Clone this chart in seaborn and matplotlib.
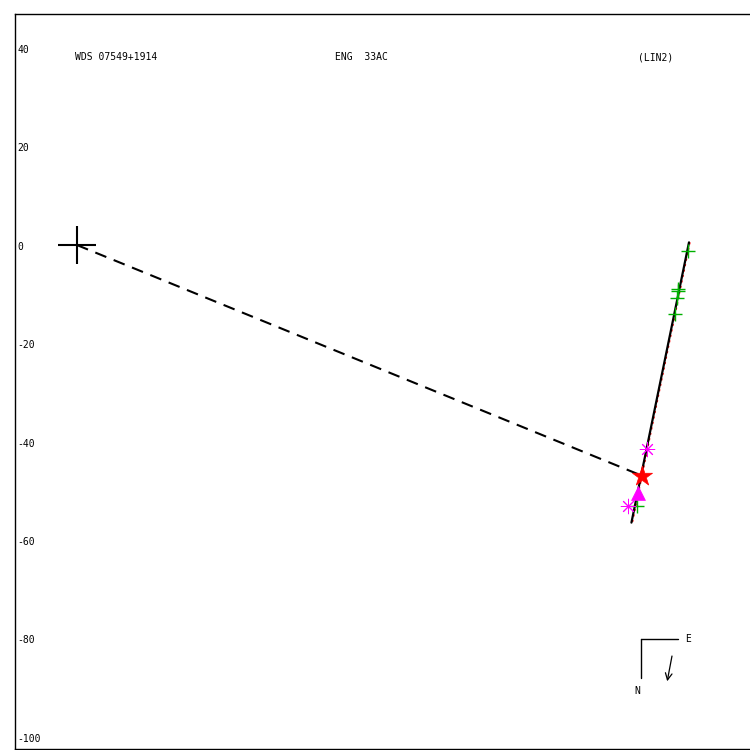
import matplotlib
matplotlib.use("Agg")
import matplotlib.pyplot as plt
import matplotlib.transforms as mtransforms
import seaborn as sns
import pandas as pd

# ---- data ----
ytick_values = [40, 20, 0, -20, -40, -60, -80, -100]
ytick_labels = ["40", "20", "0", "-20", "-40", "-60", "-80", "-100"]

header_left = "WDS 07549+1914"
header_mid = "ENG  33AC"
header_right = "(LIN2)"

primary_x = [0.0]
primary_y = [0.0]

# linear fit line (black) and red companion
fit_x = [124.4, 112.7]
fit_y = [0.55, -56.4]
red_x = [124.6, 112.9]
red_y = [0.55, -56.4]

# dashed line from primary to predicted position (red star)
link_x = [0.0, 114.9]
link_y = [0.0, -46.9]

green_x = [124.2, 122.2, 122.2, 122.0, 121.5, 113.9]
green_y = [-1.2, -8.95, -9.4, -10.85, -14.1, -53.1]

ast_x = [115.9, 111.9]
ast_y = [-41.5, -53.1]

tri_x = [114.1]
tri_y = [-50.3]

star_x = [114.9]
star_y = [-46.9]

# ---- plot ----
sns.set_style("white")
plt.rcParams['font.family'] = ['DejaVu Sans Mono', 'DejaVu Sans']
plt.rcParams['text.color'] = 'black'

fig = plt.figure(figsize=(7.5, 7.5), dpi=100)
ax = fig.add_axes([15 / 750, 1 - 749 / 750, 735 / 750, 735 / 750])

ax.set_xlim(-12.6, 136.8)
ax.set_ylim(-102.4, 46.95)

# dashed link
sns.lineplot(x=link_x, y=link_y, ax=ax, color="black", linewidth=1.5, sort=False,
             estimator=None)
ax.lines[-1].set_dashes((5.7, 3.8))

# red and black fit lines
sns.lineplot(x=red_x, y=red_y, ax=ax, color="red", linewidth=1.0, sort=False,
             estimator=None)
ax.lines[-1].set_dashes((1.5, 2.5))
sns.lineplot(x=fit_x, y=fit_y, ax=ax, color="black", linewidth=1.6, sort=False,
             estimator=None)

# markers
ax.plot(primary_x, primary_y, marker="+", markersize=27, markeredgewidth=1.5,
        color="black", linestyle="none")
sns.scatterplot(x=green_x, y=green_y, ax=ax, marker="+", s=95, color="#00b000",
                linewidth=1.0, zorder=5)
sns.scatterplot(x=ast_x, y=ast_y, ax=ax, marker=(8, 2, 0), s=110, color="magenta",
                edgecolor="magenta", linewidth=0.7, zorder=5)
sns.scatterplot(x=tri_x, y=tri_y, ax=ax, marker="^", s=100, color="magenta",
                edgecolor="magenta", linewidth=0.5, zorder=6)
sns.scatterplot(x=star_x, y=star_y, ax=ax, marker="*", s=230, color="red",
                edgecolor="red", linewidth=0.5, zorder=7)

# y tick labels drawn inside the frame
ax.set_xticks([])
ax.set_yticks([])
blend = mtransforms.blended_transform_factory(ax.transAxes, ax.transData)
for v, lab in zip(ytick_values, ytick_labels):
    ax.text(0.003, v - 0.35, lab, transform=blend, ha="left", va="center", fontsize=7)

# header texts
ax.text((75 - 15) / 735, (749 - 57) / 735, header_left, transform=ax.transAxes,
        ha="left", va="center", fontsize=7)
ax.text((335 - 15) / 735, (749 - 57) / 735, header_mid, transform=ax.transAxes,
        ha="left", va="center", fontsize=7)
ax.text((638 - 15) / 735, (749 - 57) / 735, header_right, transform=ax.transAxes,
        ha="left", va="center", fontsize=7)

# compass
def fx(px):
    return (px - 15) / 735

def fy(py):
    return (749 - py) / 735

ax.plot([fx(640.7), fx(677.7)], [fy(639.3), fy(639.3)], color="black", lw=1,
        transform=ax.transAxes)
ax.plot([fx(640.7), fx(640.7)], [fy(639.3), fy(678)], color="black", lw=1,
        transform=ax.transAxes)
ax.text(fx(688), fy(638.5), "E", transform=ax.transAxes, ha="center", va="center",
        fontsize=7)
ax.text(fx(637), fy(690.5), "N", transform=ax.transAxes, ha="center", va="center",
        fontsize=7)
ax.annotate("", xy=(fx(666.7), fy(684)), xytext=(fx(672.5), fy(653.3)),
            xycoords="axes fraction", textcoords="axes fraction",
            arrowprops=dict(arrowstyle="->", lw=0.9, color="black",
                            mutation_scale=12))

for s in ["left", "top", "bottom"]:
    ax.spines[s].set_color("black")
    ax.spines[s].set_linewidth(1.0)
ax.spines["right"].set_visible(False)

fig.savefig("out.png", dpi=100)
